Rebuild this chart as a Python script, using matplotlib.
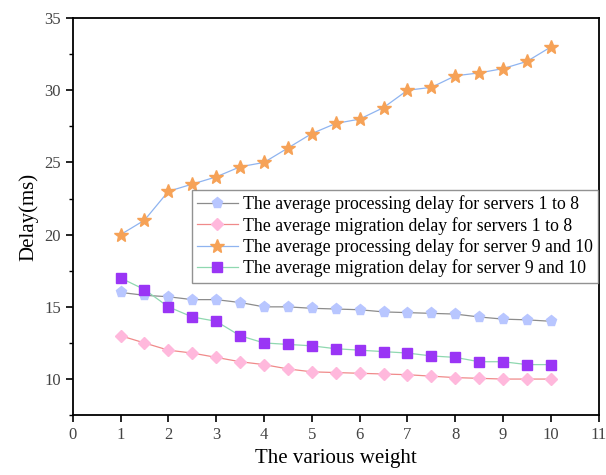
import numpy as np
import matplotlib.pyplot as plt
from matplotlib.ticker import MultipleLocator

# pesos (eixo x)
weight = [1, 1.5, 2, 2.5, 3, 3.5, 4, 4.5, 5, 5.5, 6, 6.5, 7, 7.5, 8, 8.5, 9, 9.5, 10]

proc_1_8 = [16, 15.8, 15.7, 15.5, 15.5, 15.3, 15.0, 15.0, 14.9, 14.85,
            14.8, 14.65, 14.6, 14.55, 14.5, 14.3, 14.15, 14.1, 14.0]
migr_1_8 = [13, 12.5, 12.0, 11.8, 11.5, 11.2, 11.0, 10.7, 10.5, 10.45,
            10.4, 10.35, 10.3, 10.2, 10.1, 10.05, 10.0, 10.0, 10.0]
proc_9_10 = [20, 21, 23, 23.5, 24, 24.7, 25, 26, 27, 27.7,
             28, 28.8, 30, 30.2, 31, 31.2, 31.5, 32, 33]
migr_9_10 = [17, 16.2, 15, 14.3, 14, 13, 12.5, 12.4, 12.3, 12.1,
             12.0, 11.9, 11.8, 11.6, 11.5, 11.2, 11.2, 11.0, 11.0]

labels = [
    'The average processing delay for servers 1 to 8',
    'The average migration delay for servers 1 to 8',
    'The average processing delay for server 9 and 10',
    'The average migration delay for server 9 and 10',
]

plt.rcParams['font.family'] = ['Liberation Serif', 'DejaVu Serif']

fig = plt.figure(figsize=(6.06, 4.75), dpi=100)
ax = fig.add_axes([0.120, 0.126, 0.868, 0.836])

ax.plot(weight, proc_1_8, color='#8c8c8c', lw=0.9, marker='p', ms=8,
        mfc='#b8c6ff', mec='#b8c6ff', label=labels[0])
ax.plot(weight, migr_1_8, color='#f08a8a', lw=0.9, marker='D', ms=6.5,
        mfc='#ffb8dc', mec='#ffb8dc', label=labels[1])
ax.plot(weight, proc_9_10, color='#8fb4f0', lw=0.9, marker='*', ms=10,
        mfc='#f6a257', mec='#f6a257', label=labels[2])
ax.plot(weight, migr_9_10, color='#8fd8b0', lw=0.9, marker='s', ms=6.5,
        mfc='#9a35f5', mec='#9a35f5', label=labels[3])

ax.set_xlim(0, 11)
ax.set_ylim(7.5, 35)
ax.xaxis.set_major_locator(MultipleLocator(1))
ax.yaxis.set_major_locator(MultipleLocator(5))
ax.yaxis.set_minor_locator(MultipleLocator(2.5))
ax.tick_params(axis='both', which='major', direction='out', length=5, width=1.2,
               labelsize=12, labelcolor='#444444')
ax.tick_params(axis='y', which='minor', direction='out', length=3, width=1.0)
for s in ax.spines.values():
    s.set_linewidth(1.3)

ax.set_xlabel('The various weight', fontsize=15)
ax.set_ylabel('Delay(ms)', fontsize=15)

leg = ax.legend(loc='upper left', bbox_to_anchor=(0.226, 0.567), fontsize=12.8,
                frameon=True, fancybox=False, edgecolor='#777777',
                borderpad=0.3, labelspacing=0.2, handlelength=2.3,
                handletextpad=0.3, borderaxespad=0)
leg.get_frame().set_linewidth(1.0)

fig.savefig('out.png', dpi=100)
